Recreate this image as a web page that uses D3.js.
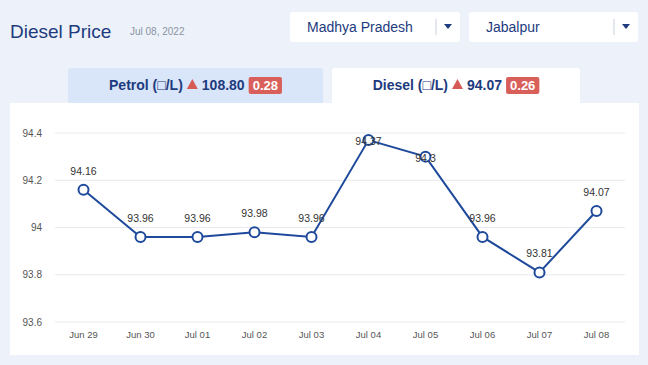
<!DOCTYPE html>
<html><head><meta charset="utf-8">
<script src="https://cdn.jsdelivr.net/npm/d3@7"></script>
<style>
body{margin:0;background:#edf2fa;font-family:Arial,"Liberation Sans",sans-serif;}
svg{display:block}
</style></head><body>
<svg id="c" width="648" height="365"></svg>
<script>
const categories=["Jun 29","Jun 30","Jul 01","Jul 02","Jul 03","Jul 04","Jul 05","Jul 06","Jul 07","Jul 08"];
const values=[94.16,93.96,93.96,93.98,93.96,94.37,94.3,93.96,93.81,94.07];
const valueLabels=["94.16","93.96","93.96","93.98","93.96","94.37","94.3","93.96","93.81","94.07"];
const yTicks=[93.6,93.8,94,94.2,94.4];
const yTickLabels=["93.6","93.8","94","94.2","94.4"];
const title="Diesel Price", dateText="Jul 08, 2022";
const stateName="Madhya Pradesh", cityName="Jabalpur";
const tabs=[{name:"Petrol (\u25A1/L)",price:"108.80",change:"0.28"},{name:"Diesel (\u25A1/L)",price:"94.07",change:"0.26"}];

const svg=d3.select("#c");
const navy="#1d3b7e", lineC="#1f4a9c";

// header
svg.append("text").attr("x",10).attr("y",38).attr("font-size",19).attr("fill",navy).text(title);
svg.append("text").attr("x",130).attr("y",35).attr("font-size",10).attr("fill","#8a93a3").text(dateText);

function dropdown(x,w,label){
  const g=svg.append("g");
  g.append("rect").attr("x",x).attr("y",12).attr("width",w).attr("height",30).attr("rx",3).attr("fill","#fff");
  g.append("text").attr("x",x+17).attr("y",32).attr("font-size",14).attr("fill",navy).text(label);
  g.append("line").attr("x1",x+w-24).attr("x2",x+w-24).attr("y1",19).attr("y2",35).attr("stroke","#c9d0dc");
  g.append("path").attr("d",`M${x+w-16},24 l8,0 l-4,5 z`).attr("fill",navy);
}
dropdown(290,170,stateName);
dropdown(469,169,cityName);

// tabs
const tabX=[[68,323,"#d9e5f8"],[332,580,"#ffffff"]];
tabs.forEach((t,i)=>{
  const [x0,x1,bg]=tabX[i];
  svg.append("rect").attr("x",x0).attr("y",68).attr("width",x1-x0).attr("height",36).attr("rx",3).attr("fill",bg);
  const g=svg.append("g");
  const parts=[];
  const a=g.append("text").attr("y",90).attr("font-size",14).attr("font-weight","bold").attr("fill",navy).text(t.name);
  const tri=g.append("path").attr("fill","#d65b55");
  const b=g.append("text").attr("y",90).attr("font-size",14).attr("font-weight","bold").attr("fill",navy).text(t.price);
  const bt=g.append("text").attr("y",90).attr("font-size",13).attr("font-weight","bold").attr("fill","#fff").text(t.change);
  const wa=a.node().getComputedTextLength(), wb=b.node().getComputedTextLength(), wc=bt.node().getComputedTextLength();
  const triW=11, gap=4, bw=wc+8;
  const total=wa+gap+triW+gap+wb+gap+bw;
  let cx=(x0+x1)/2-total/2;
  a.attr("x",cx); cx+=wa+gap;
  tri.attr("d",`M${cx},89 l${triW},0 l${-triW/2},-10 z`); cx+=triW+gap;
  b.attr("x",cx); cx+=wb+gap;
  g.insert("rect","text:last-child").attr("x",cx).attr("y",77).attr("width",bw).attr("height",17).attr("rx",2).attr("fill","#d9605a");
  bt.attr("x",cx+4);
});

// panel
svg.append("rect").attr("x",10).attr("y",103).attr("width",629).attr("height",252).attr("fill","#fff");

const x=d3.scalePoint().domain(categories).range([55,625]).padding(0.5);
const y=d3.scaleLinear().domain([93.6,94.4]).range([322,133]);

svg.append("g").selectAll("line").data(yTicks).join("line")
  .attr("x1",55).attr("x2",625).attr("y1",d=>y(d)).attr("y2",d=>y(d))
  .attr("stroke","#e6e9ee").attr("stroke-width",1);
svg.append("g").selectAll("text").data(yTicks).join("text")
  .attr("x",42).attr("y",d=>y(d)+3.5).attr("text-anchor","end").attr("font-size",10).attr("fill","#555")
  .text((d,i)=>yTickLabels[i]);
svg.append("g").selectAll("text").data(categories).join("text")
  .attr("x",d=>x(d)).attr("y",338).attr("text-anchor","middle").attr("font-size",9.5).attr("fill","#555").text(d=>d);

const pts=categories.map((c,i)=>({c,v:values[i],l:valueLabels[i]}));
svg.append("path").datum(pts).attr("fill","none").attr("stroke",lineC).attr("stroke-width",2)
  .attr("d",d3.line().x(d=>x(d.c)).y(d=>y(d.v)));
svg.append("g").selectAll("circle").data(pts).join("circle")
  .attr("cx",d=>x(d.c)).attr("cy",d=>y(d.v)).attr("r",5)
  .attr("fill","#fff").attr("stroke",lineC).attr("stroke-width",2);
svg.append("g").selectAll("text").data(pts).join("text")
  .attr("x",d=>x(d.c)).attr("text-anchor","middle").attr("font-size",10.5).attr("fill","#333")
  .attr("y",d=>{const py=y(d.v); return (py-18<140)? py+5 : py-15;})
  .text(d=>d.l);
</script></body></html>
